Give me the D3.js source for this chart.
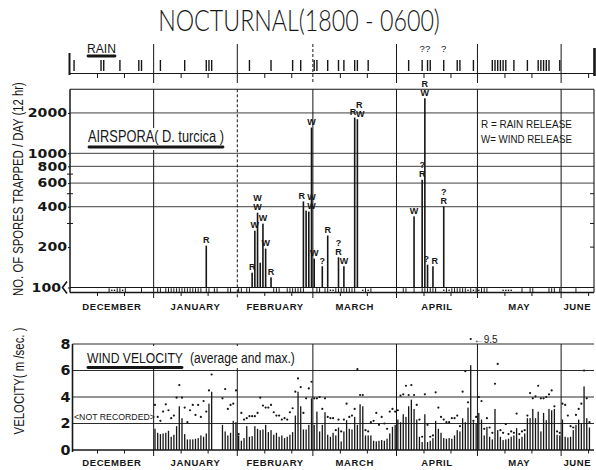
<!DOCTYPE html>
<html>
<head>
<meta charset="utf-8">
<script src="https://cdn.jsdelivr.net/npm/d3@7"></script>
<style>
  body { margin: 0; background: #fff; }
  svg { display: block; }
</style>
</head>
<body>
<svg id="chart" width="596" height="470"></svg>
<script>
// ---- calendar: day 0 = 1 December, shown through mid-June ----
const months = ["DECEMBER", "JANUARY", "FEBRUARY", "MARCH", "APRIL", "MAY", "JUNE"];
const monthLengths = [31, 31, 28, 31, 30, 31, 12];

// ---- rain: days with rain (day index), and the doubtful ones ----
const rainDays = [1, 11, 12, 18, 25, 26, 33, 42, 50, 51, 52, 66, 74, 82, 85, 90, 91, 95,
  99, 101, 105, 106, 110, 125, 130, 132, 133, 138, 143, 144, 149,
  156, 157, 158, 159, 160, 161, 164, 169, 173, 174, 175, 176, 177, 181];
const rainDoubtDays = [130, 132, 138];

// ---- airspora: nightly catches of D. turcica above 100 spores ----
const sporeDays = [50, 67, 68, 69, 70, 71, 72, 74, 86, 87, 88, 89, 90, 93, 95, 99, 101,
  105, 106, 127, 130, 131, 132, 134, 138];
const sporeCounts = [205, 129, 265, 361, 153, 299, 195, 119, 438, 374, 368, 1556, 164, 144, 244, 168, 144,
  1846, 1795, 339, 635, 2573, 148, 144, 402];
const sporeTags = ["R", "R", "W", "W/W", "", "W", "W", "R", "R", "", "W/W", "W", "W", "?", "R", "?/R", "W",
  "R", "R/W", "W", "?/R", "R/W", "?", "R", "?/R"];
// catches below 100: trace marks along the base strip
const traceDays = [14, 17, 18, 20, 26, 32, 33, 35, 36, 37, 38, 39, 40, 41, 42, 43, 44, 45, 46, 47, 48, 50, 51,
  53, 54, 58, 59, 62, 63, 65, 66, 75, 76, 77, 80, 81, 82, 83, 84, 85, 86, 91, 92, 94, 95, 98, 99, 100,
  101, 102, 103, 104, 105, 109, 111, 123, 124, 127, 130, 131, 132, 133, 134, 135, 139, 141, 142, 143,
  144, 145, 146, 148, 150, 152, 153, 154, 167, 170, 171, 177, 178, 179, 181, 187];
const traceDotDays = [15, 16, 19, 96, 97, 108, 110, 138, 140, 147, 149, 151, 160, 161, 162, 163];
const sporeTicks = [100, 200, 400, 600, 800, 1000, 2000];
const sporeGrid = [400, 600, 800, 1000, 2000];

// ---- wind velocity (m/sec): daily average and maximum, null = not recorded ----
const windAvgJan = [1.6, 1.3, 1.2, 1.25, 1.3, 1.45, 1.0, 1.15, 1.8, 3.3, 2.4, 1.2, 0.8, 0.8, 0.8, 0.85, 0.9, 1.1, 1.0, 1.25, 3.5, 4.4, null, null, null, 1.9, 1.4, 1.1, 1.3, 2.2, 2.1];
const windMaxJan = [3.4, 2.5, 2.2, 2.9, 3.45, 3.0, 2.4, 2.6, 3.95, 4.9, 3.95, 3.2, 2.1, 3.0, 3.4, 2.65, 3.4, 2.5, 3.7, 2.9, 4.5, 5.7, null, null, null, 3.9, 4.6, 3.1, 3.4, 3.5, 4.5];
const windAvgFeb = [1.1, 0.7, 0.9, 1.8, 1.0, 1.05, 1.8, 1.6, 1.5, 1.55, 1.9, 1.35, 1.5, 1.15, 1.3, 1.0, 1.1, 0.9, 1.0, 1.15, 1.35, 2.6, 4.4, 3.3, 1.55, 1.55, 1.9, 3.9];
const windMaxFeb = [1.2, 2.8, 2.3, 2.4, 2.55, 2.55, 2.55, 2.8, 3.95, 3.35, 3.2, 3.2, 3.4, 2.85, 2.6, 2.6, 2.3, 2.4, 2.3, 2.85, 3.15, 4.4, 5.4, 4.75, 2.8, 3.9, 4.65, 5.15];
const windAvgMar = [1.9, 2.9, 1.4, 1.9, 2.85, 1.15, 1.0, 1.3, 1.1, 1.7, 0.65, 1.4, 2.25, 1.6, 1.55, 2.5, 1.9, 3.45, 3.3, 1.1, 1.1, 1.1, 0.7, 0.65, 0.7, 0.75, 0.7, 0.85, 1.25, 1.75, 1.9];
const windMaxMar = [3.9, 3.9, 4.0, 3.1, 3.9, 2.5, 2.4, 2.4, 1.5, 2.3, 1.4, 2.3, 3.5, 2.5, 2.6, 3.1, 6.1, 4.15, 4.15, 1.5, 1.4, 2.1, 2.2, 2.8, 1.9, 2.5, 2.0, 1.6, 2.9, 3.1, 2.9];
const windAvgApr = [2.3, 2.1, 2.7, 2.5, 3.3, 3.8, 3.1, 2.3, 1.0, 0.6, 2.7, 0.6, 0.7, 0.9, 2.2, 1.6, 1.3, 0.9, 0.85, 0.9, 0.85, 1.1, 1.5, 1.4, 2.4, 2.1, 3.2, 6.4, 2.1, 2.0];
const windMaxApr = [3.0, 4.1, 4.2, 4.85, 4.15, 4.9, 4.15, 3.4, 2.3, 1.0, 4.2, 1.9, 1.0, 1.1, 4.35, 3.2, 2.5, 2.3, 2.1, 2.1, 2.4, 2.4, 2.6, 1.8, 4.4, 5.95, 3.6, 9.5, 2.2, 2.5];
const windAvgMay = [2.8, 2.3, 1.1, 1.75, 1.0, 0.8, 3.1, 1.5, 1.0, 0.75, 0.8, 0.85, 1.0, 1.1, 1.65, 0.85, 1.0, 1.25, 2.4, 2.4, 3.1, 2.4, 2.9, 1.4, 2.8, 2.25, 3.1, 3.0, 3.1, 1.15, 1.1];
const windMaxMay = [4.0, 3.7, 1.6, 2.4, 1.7, 1.3, 5.0, 6.5, 1.5, 1.3, 1.95, 1.2, 1.4, 1.3, 2.75, 1.2, 1.4, 1.5, 2.6, 4.3, 3.9, 4.05, 4.85, 3.9, 3.9, 4.0, 4.2, 4.5, 3.3, 1.4, 1.3];
const windAvgJun = [2.3, 1.0, 0.95, 1.0, 1.5, 1.9, 2.3, 2.0, 4.8, 2.4, 1.7];
const windMaxJun = [3.5, 3.4, 2.6, 1.8, 1.7, 2.65, 3.1, 3.5, 6.0, 3.9, 2.1];
const windTicks = [0, 2, 4, 6, 8];

// ---------------------------------------------------------------
const INK = "#161616";
const NARROW = "Liberation Sans Narrow, Arial Narrow, sans-serif";
const SANS = "Liberation Sans, Arial, sans-serif";
const svg = d3.select("#chart");
const totalDays = d3.sum(monthLengths);
const monthStarts = Array.from(d3.cumsum([0, ...monthLengths.slice(0, -1)]));
const tenDays = monthStarts.flatMap((s, i) => [10, 20].filter(o => o < monthLengths[i]).map(o => s + o));

const x = d3.scaleLinear().domain([0, totalDays]).range([70, 593.5]);
const xc = d => x(d + 0.5);

// wind records laid out on the day axis
const windMonths = [
  [windAvgJan, windMaxJan], [windAvgFeb, windMaxFeb], [windAvgMar, windMaxMar],
  [windAvgApr, windMaxApr], [windAvgMay, windMaxMay], [windAvgJun, windMaxJun]
];
const wind = windMonths.flatMap(([avg, mx], m) =>
  avg.map((a, i) => ({ day: monthStarts[m + 1] + i, avg: a, max: mx[i] })))
  .filter(d => d.avg != null);

function monthDividers(g, y0, y1, dashedDay) {
  g.append("g").selectAll("line").data(monthStarts.slice(1)).join("line")
    .attr("x1", d => x(d)).attr("x2", d => x(d))
    .attr("y1", y0).attr("y2", y1)
    .attr("stroke", INK).attr("stroke-width", 1)
    .attr("stroke-dasharray", d => d === dashedDay ? "3,2" : null);
}
function tenDayTicks(g, y, len) {
  const ax = g.append("g").attr("transform", `translate(0,${y})`)
    .call(d3.axisBottom(x).tickValues(tenDays).tickSize(len).tickFormat(""));
  ax.select(".domain").remove();
  ax.selectAll("line").attr("stroke", INK);
}
function hline(g, x0, x1, y, w) {
  g.append("line").attr("x1", x0).attr("x2", x1).attr("y1", y).attr("y2", y)
    .attr("stroke", INK).attr("stroke-width", w || 1);
}
function vline(g, xx, y0, y1, w) {
  g.append("line").attr("x1", xx).attr("x2", xx).attr("y1", y0).attr("y2", y1)
    .attr("stroke", INK).attr("stroke-width", w || 1);
}
// text squeezed or stretched along its baseline to an exact width
function fitText(g, tx, ty, text, len, size, family, opt = {}) {
  const t = g.append("text")
    .attr("font-family", family).attr("font-size", size).attr("fill", INK)
    .attr("font-weight", opt.weight || null)
    .attr("text-anchor", opt.anchor || "start")
    .text(text);
  const w = t.node().getComputedTextLength();
  t.attr("transform", `translate(${tx},${ty}) rotate(${opt.rotate || 0}) scale(${len / w},1)`);
  return t;
}
function monthLabels(g, y) {
  g.append("g").selectAll("text").data(months).join("text")
    .attr("x", (d, i) => x(monthStarts[i] + monthLengths[i] / 2))
    .attr("y", y)
    .attr("text-anchor", "middle")
    .attr("font-family", SANS)
    .attr("font-size", 9.5).attr("font-weight", "bold")
    .attr("letter-spacing", 0.6)
    .attr("fill", INK)
    .text(d => d);
}
function underlinedTitle(g, tx, ty, text, len, size, ulY) {
  fitText(g, tx, ty, text, len, size, NARROW);
  g.append("line").attr("x1", tx + 1).attr("x2", tx + len - 1)
    .attr("y1", ulY).attr("y2", ulY)
    .attr("stroke", INK).attr("stroke-width", 2.8).attr("stroke-linecap", "round");
}
// heavy, wide axis numerals
function styleNumerals(sel, size, perDigit) {
  sel.attr("font-family", "DejaVu Sans, sans-serif").attr("font-weight", "bold")
    .attr("font-size", size).attr("fill", INK)
    .attr("textLength", function () { return this.textContent.length * perDigit; })
    .attr("lengthAdjust", "spacingAndGlyphs");
}

// ---- title ----
fitText(svg, 299, 31, "NOCTURNAL(1800 - 0600)", 282, 29, "Lato, 'Open Sans', sans-serif",
  { anchor: "middle", weight: 300 });

// ---- rain strip ----
const rain = svg.append("g");
hline(rain, x(0), x(totalDays) + 1, 73.5, 1.2);
vline(rain, 69.5, 53, 75, 2);
vline(rain, 594.5, 48, 76, 2.6);
monthDividers(rain, 44, 83, monthStarts[3]);
tenDayTicks(rain, 73.5, 4.5);
rain.append("g").selectAll("line").data(rainDays).join("line")
  .attr("x1", d => xc(d)).attr("x2", d => xc(d))
  .attr("y1", 60).attr("y2", 71)
  .attr("stroke", INK).attr("stroke-width", 1.4);
rain.append("g").selectAll("text").data(rainDoubtDays).join("text")
  .attr("x", d => xc(d)).attr("y", 52)
  .attr("text-anchor", "middle")
  .attr("font-family", NARROW)
  .attr("font-size", 9.5).attr("fill", INK)
  .text("?");
underlinedTitle(rain, 87, 53, "RAIN", 29, 13, 56);

// ---- airspora panel ----
const yS = d3.scaleLog().domain([100, 3000]).range([287.5, 89.3]);
const main = svg.append("g");
main.append("g").selectAll("line").data(sporeGrid).join("line")
  .attr("x1", 70).attr("x2", 594).attr("y1", d => yS(d)).attr("y2", d => yS(d))
  .attr("stroke", "#2a2a2a").attr("stroke-width", 0.9);
hline(main, 70, 594, yS(3000), 1.1);
hline(main, 70, 594, yS(100), 1.1);
hline(main, 70, 594, 292.5, 1.4);
vline(main, 594, yS(3000), 292.5, 1.1);
monthDividers(main, yS(3000), 298, monthStarts[2]);
tenDayTicks(main, 292.5, 3.5);
// minor ticks on both frame edges
main.append("g").selectAll("line").data([300, 500, 700]).join("line")
  .attr("x1", 67).attr("x2", 73).attr("y1", d => yS(d)).attr("y2", d => yS(d))
  .attr("stroke", INK);
main.append("g").selectAll("line").data([200, 300, 500]).join("line")
  .attr("x1", 590).attr("x2", 594).attr("y1", d => yS(d)).attr("y2", d => yS(d))
  .attr("stroke", INK);

// trace marks in the base strip
main.append("g").selectAll("line").data(traceDays).join("line")
  .attr("x1", d => xc(d)).attr("x2", d => xc(d))
  .attr("y1", 288.2).attr("y2", 292)
  .attr("stroke", INK).attr("stroke-width", 1);
main.append("g").selectAll("rect").data(traceDotDays).join("rect")
  .attr("x", d => xc(d) - 0.7).attr("y", 289.6).attr("width", 1.4).attr("height", 1.4)
  .attr("fill", INK);

// spore bars
const spores = sporeDays.map((d, i) => ({ day: d, count: sporeCounts[i], tag: sporeTags[i] }));
main.append("g").selectAll("rect").data(spores).join("rect")
  .attr("x", d => xc(d.day) - 0.8).attr("width", 1.6)
  .attr("y", d => yS(d.count)).attr("height", d => yS(100) - yS(d.count))
  .attr("fill", INK);

// release tags: stacked above each bar; crowded neighbours are pushed apart sideways
const LINE = 9;
const tagged = spores.filter(d => d.tag).map(d => {
  const lines = d.tag.split("/").reverse();
  const base = yS(d.count) - 2.5;
  return { ...d, lines, base, top: base - 7 - (lines.length - 1) * LINE };
});
const clash = (a, b) => Math.abs(a.day - b.day) <= 2 && a.top < b.base && b.top < a.base;
tagged.forEach(d => {
  const left = tagged.some(o => o !== d && o.day < d.day && clash(o, d));
  const right = tagged.some(o => o !== d && o.day > d.day && clash(o, d));
  d.anchor = left && !right ? "start" : right && !left ? "end" : "middle";
});
main.append("g").selectAll("g").data(tagged).join("g")
  .each(function (d) {
    const tx = xc(d.day) + (d.anchor === "start" ? -1.5 : d.anchor === "end" ? 1.5 : 0);
    d3.select(this).selectAll("text").data(d.lines).join("text")
      .attr("x", tx).attr("y", (t, i) => d.base - i * LINE)
      .attr("text-anchor", d.anchor)
      .attr("font-family", SANS)
      .attr("font-size", 9).attr("font-weight", "bold").attr("fill", INK)
      .text(t => t);
  });

// y axis labels
const axS = main.append("g").attr("transform", "translate(70,0)")
  .call(d3.axisLeft(yS).tickValues(sporeTicks).tickFormat(d3.format("d")).tickSize(2).tickPadding(1));
axS.select(".domain").remove();
axS.selectAll("line").attr("stroke", INK);
styleNumerals(axS.selectAll("text"), 12, 9.8);
axS.selectAll(".tick").filter(d => d === 100).select("text").attr("dx", -6);
vline(main, 70, yS(3000), 292.5, 1.5);
// bracket after the 100 label
main.append("path")
  .attr("d", `M67,${yS(100) - 6} L62.5,${yS(100)} L67,${yS(100) + 6}`)
  .attr("fill", "none").attr("stroke", INK).attr("stroke-width", 1.6);

main.append("rect").attr("x", 84).attr("y", 128).attr("width", 144).attr("height", 22).attr("fill", "#fff");
underlinedTitle(main, 88, 142, "AIRSPORA( D. turcica )", 136, 16, 147);

// legend
["R = RAIN  RELEASE", "W= WIND  RELEASE"].forEach((t, i) =>
  fitText(main, 481, 128 + i * 15, t, 91, 10.5, SANS));

monthLabels(main, 310);

fitText(svg, 23, 189, "NO. OF SPORES TRAPPED / DAY (12 hr)", 214, 14, NARROW,
  { anchor: "middle", rotate: -90 });

// ---- wind velocity panel ----
const yW = d3.scaleLinear().domain([0, 8]).range([450, 344]);
const wv = svg.append("g");
wv.append("g").selectAll("line").data([2, 4, 6, 8]).join("line")
  .attr("x1", 72.5).attr("x2", 594).attr("y1", d => yW(d)).attr("y2", d => yW(d))
  .attr("stroke", "#2a2a2a").attr("stroke-width", 1);
monthDividers(wv, yW(8), 456, -1);
tenDayTicks(wv, 450, 3.5);

wv.append("g").selectAll("rect").data(wind).join("rect")
  .attr("x", d => xc(d.day) - 0.65).attr("width", 1.3)
  .attr("y", d => yW(d.avg)).attr("height", d => yW(0) - yW(d.avg))
  .attr("fill", INK);
const capY = d => d.max > 8 ? yW(8) - 5 : yW(d.max);
wv.append("g").selectAll("circle").data(wind.filter(d => d.max != null)).join("circle")
  .attr("cx", d => xc(d.day)).attr("cy", capY).attr("r", 1.1)
  .attr("fill", INK);
wv.append("g").selectAll("text").data(wind.filter(d => d.max > 8)).join("text")
  .attr("x", d => xc(d.day) + 3).attr("y", d => capY(d) + 3.5)
  .attr("font-family", SANS)
  .attr("font-size", 10).attr("fill", INK)
  .text(d => "\u2190" + d.max);

hline(wv, 72.5, 594, yW(0), 1.6);
vline(wv, 72.5, yW(8), 452, 1.6);

const axW = wv.append("g").attr("transform", "translate(72,0)")
  .call(d3.axisLeft(yW).tickValues(windTicks).tickSize(0).tickPadding(1.5));
axW.select(".domain").remove();
styleNumerals(axW.selectAll("text"), 14, 10);

wv.append("rect").attr("x", 82).attr("y", 346).attr("width", 218).attr("height", 22).attr("fill", "#fff");
underlinedTitle(wv, 87, 363, "WIND VELOCITY", 96, 14.5, 367.5);
fitText(wv, 190, 363, "(average and max.)", 105, 14.5, NARROW);

fitText(wv, 74, 420, "<NOT RECORDED>", 81, 9, SANS);

monthLabels(wv, 466);

fitText(svg, 24, 381, "VELOCITY( m /sec. )", 107, 14, NARROW,
  { anchor: "middle", rotate: -90 });
</script>
</body>
</html>
